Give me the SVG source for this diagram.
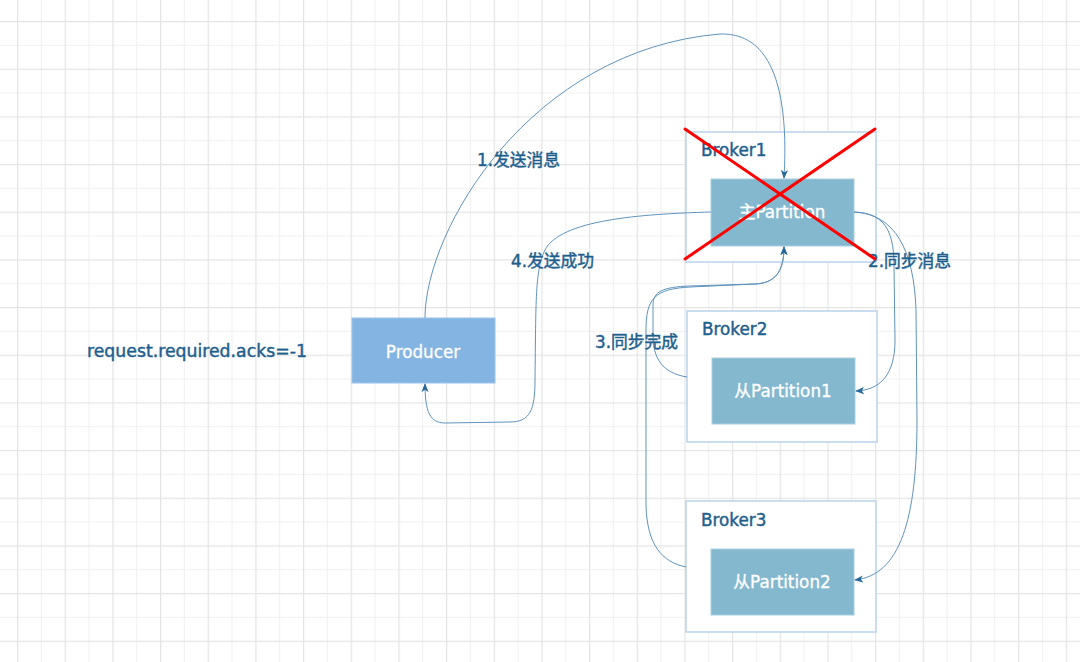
<svg xmlns="http://www.w3.org/2000/svg" width="1080" height="662" viewBox="0 0 1080 662">
  <defs>
    <pattern id="grid" patternUnits="userSpaceOnUse" x="17" y="21" width="47.67" height="47.67">
      <rect x="0" y="0" width="47.67" height="47.67" fill="#ffffff"/>
      <rect x="23.83" y="0" width="1" height="47.67" fill="#f1f1f1"/>
      <rect x="0" y="23.83" width="47.67" height="1" fill="#f1f1f1"/>
      <rect x="0" y="0" width="1.2" height="47.67" fill="#e4e4e4"/>
      <rect x="0" y="0" width="47.67" height="1.2" fill="#e4e4e4"/>
    </pattern>
    <marker id="arrow" viewBox="0 0 10 8" refX="9" refY="4" markerWidth="9" markerHeight="8" markerUnits="userSpaceOnUse" orient="auto">
      <path d="M0,0 L10,4 L0,8 L2.5,4 Z" fill="#2a6a9a"/>
    </marker>
    <style>
      .broker { fill: #ffffff; stroke: #b9d3ec; stroke-width: 1.5; }
      .part { fill: #84b8ce; stroke: #a9cfe0; stroke-width: 1; }
      .prod { fill: #84b4e2; stroke: #9cc4ea; stroke-width: 1; }
      .lbl { font-family: "DejaVu Sans", "Noto Sans CJK SC", sans-serif; font-size: 16.8px; fill: #1f5f8e; stroke: #1f5f8e; stroke-width: 0.45; }
      .inner { font-family: "DejaVu Sans", "Noto Sans CJK SC", sans-serif; font-size: 16.8px; fill: #ffffff; stroke: #ffffff; stroke-width: 0.3; text-anchor: middle; }
      .conn { fill: none; stroke: #5f93bd; stroke-width: 1; }
      .cross { stroke: #ff0000; stroke-width: 3; stroke-linecap: round; }
    </style>
  </defs>
  <rect x="0" y="0" width="1080" height="662" fill="url(#grid)"/>

  <g id="producer">
    <rect class="prod" x="352" y="318" width="143" height="65"/>
    <text class="inner" x="423" y="358">Producer</text>
  </g>

  <g id="acks-label">
    <text class="lbl" x="87" y="357" style="font-size:17.3px">request.required.acks=-1</text>
  </g>

  <g id="broker1">
    <rect class="broker" x="686" y="132" width="190" height="130"/>
    <text class="lbl" x="701" y="156">Broker1</text>
    <g id="leader-partition">
      <rect class="part" x="711" y="179" width="143" height="67"/>
      <text class="inner" x="782" y="218">主Partition</text>
    </g>
  </g>

  <g id="broker2">
    <rect class="broker" x="687" y="311" width="190" height="131"/>
    <text class="lbl" x="702" y="335">Broker2</text>
    <g id="follower-partition1">
      <rect class="part" x="712" y="358" width="143" height="66"/>
      <text class="inner" x="783" y="397">从Partition1</text>
    </g>
  </g>

  <g id="broker3">
    <rect class="broker" x="686" y="501" width="190" height="131"/>
    <text class="lbl" x="701" y="526">Broker3</text>
    <g id="follower-partition2">
      <rect class="part" x="711" y="549" width="143" height="66"/>
      <text class="inner" x="782" y="588">从Partition2</text>
    </g>
  </g>

  <g id="connectors">
    <path class="conn" d="M425,318 C425,230 530,50 720,34 C780,32 788,110 784,178" marker-end="url(#arrow)"/>
    <path class="conn" d="M711,212 C640,214 560,220 545,250 C535,270 536,300 535,380 C535,410 530,422 510,422 L445,423 C430,423 425,412 425,384" marker-end="url(#arrow)"/>
    <path class="conn" d="M687,377 C662,373 653,358 653,335 L653,305 C653,292 662,287 690,286 L755,284 C775,283 784,272 784,247" marker-end="url(#arrow)"/>
    <path class="conn" d="M686,567 C662,562 647,545 646,505 L646,330 C646,298 655,289 690,287 L755,284 C775,283 784,272 784,247" marker-end="url(#arrow)"/>
    <path class="conn" d="M854,212 C880,213 894,225 894,265 L895,340 C895,375 880,390 856,391" marker-end="url(#arrow)"/>
    <path class="conn" d="M854,212 C895,214 914,250 916,310 L917,420 C917,520 900,575 855,580" marker-end="url(#arrow)"/>
  </g>

  <g id="connector-labels">
    <text class="lbl" x="477" y="166">1.发送消息</text>
    <text class="lbl" x="868" y="267">2.同步消息</text>
    <text class="lbl" x="595" y="348">3.同步完成</text>
    <text class="lbl" x="511" y="267">4.发送成功</text>
  </g>

  <g id="failure-cross">
    <line class="cross" x1="685" y1="129" x2="875" y2="259"/>
    <line class="cross" x1="685" y1="259" x2="875" y2="129"/>
  </g>
</svg>
